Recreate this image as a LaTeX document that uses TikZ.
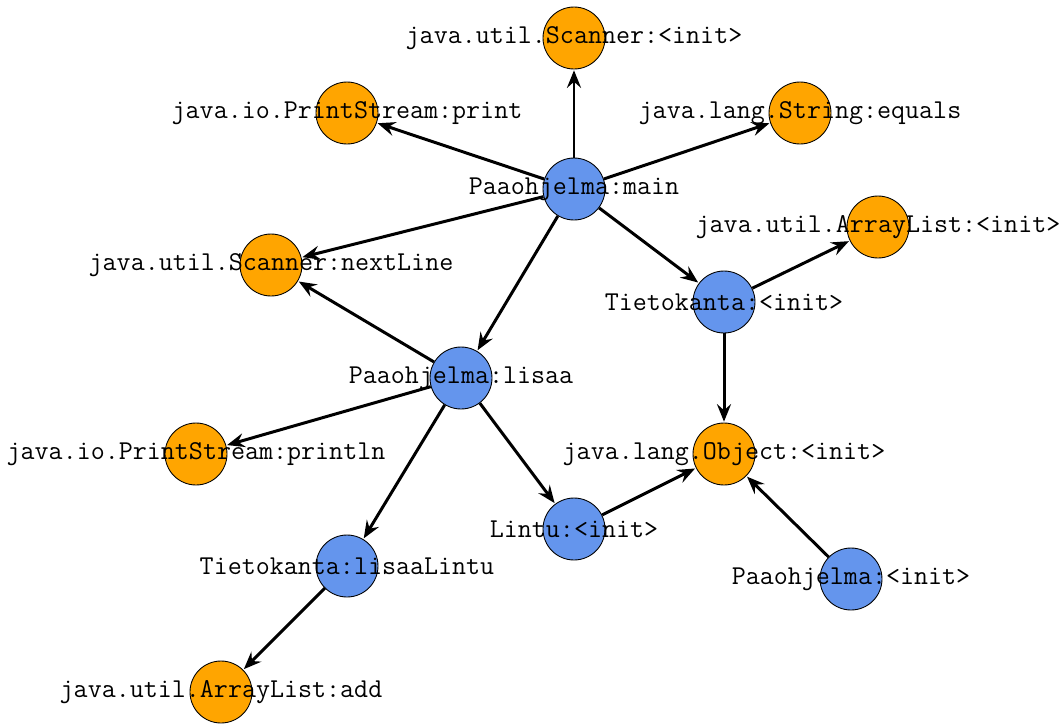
\documentclass[tikz,border=0pt]{standalone}
\usepackage{tikz}
\usetikzlibrary{arrows.meta,backgrounds}

\definecolor{callee}{HTML}{FFA500}
\definecolor{caller}{HTML}{6495ED}

\tikzset{
	method/.style={circle, draw=black, line width=0.5pt, minimum size=1.24cm, inner sep=0pt,
		label={[font=\fontsize{15.5}{18}\ttfamily]center:#1}},
	lib/.style={method={#1}, fill=callee},
	own/.style={method={#1}, fill=caller},
	call/.style={-{Stealth[length=10pt,width=8pt,inset=3.5pt]}, line width=1.7pt, shorten >=0.5pt}
}

\begin{document}
\begin{tikzpicture}[x=0.02cm, y=-0.02cm]
			%%%%% START %%%%%
			
			\useasboundingbox (0, 0) rectangle (1062, 724);
			
			% own methods
			\node[own={Paaohjelma:main}] (main) at (574, 189) {};
			\node[own={Paaohjelma:lisaa}] (lisaa) at (461, 378) {};
			\node[own={Tietokanta:<init>}] (tkinit) at (724, 302) {};
			\node[own={Lintu:<init>}] (lintu) at (574, 529) {};
			\node[own={Paaohjelma:<init>}] (ppinit) at (851, 579) {};
			\node[own={Tietokanta:lisaaLintu}] (tklisaa) at (347, 566) {};
			
			% library methods
			\node[lib={java.util.Scanner:<init>}] (scinit) at (574, 38) {};
			\node[lib={java.io.PrintStream:print}] (psprint) at (347, 113) {};
			\node[lib={java.lang.String:equals}] (streq) at (800, 113) {};
			\node[lib={java.util.ArrayList:<init>}] (alinit) at (878, 227) {};
			\node[lib={java.util.Scanner:nextLine}] (scnext) at (271, 265) {};
			\node[lib={java.io.PrintStream:println}] (psprintln) at (196, 454) {};
			\node[lib={java.lang.Object:<init>}] (objinit) at (724, 454) {};
			\node[lib={java.util.ArrayList:add}] (aladd) at (221, 692) {};
			
			% calls
			\begin{scope}[on background layer]
				\draw[call] (main) -- (scinit);
				\draw[call] (main) -- (psprint);
				\draw[call] (main) -- (streq);
				\draw[call] (main) -- (scnext);
				\draw[call] (main) -- (tkinit);
				\draw[call] (main) -- (lisaa);
				
				\draw[call] (tkinit) -- (alinit);
				\draw[call] (tkinit) -- (objinit);
				
				\draw[call] (lisaa) -- (scnext);
				\draw[call] (lisaa) -- (psprintln);
				\draw[call] (lisaa) -- (tklisaa);
				\draw[call] (lisaa) -- (lintu);
				
				\draw[call] (lintu) -- (objinit);
				\draw[call] (ppinit) -- (objinit);
				\draw[call] (tklisaa) -- (aladd);
			\end{scope}
			
			%%%%% END %%%%%
\end{tikzpicture}
\end{document}
